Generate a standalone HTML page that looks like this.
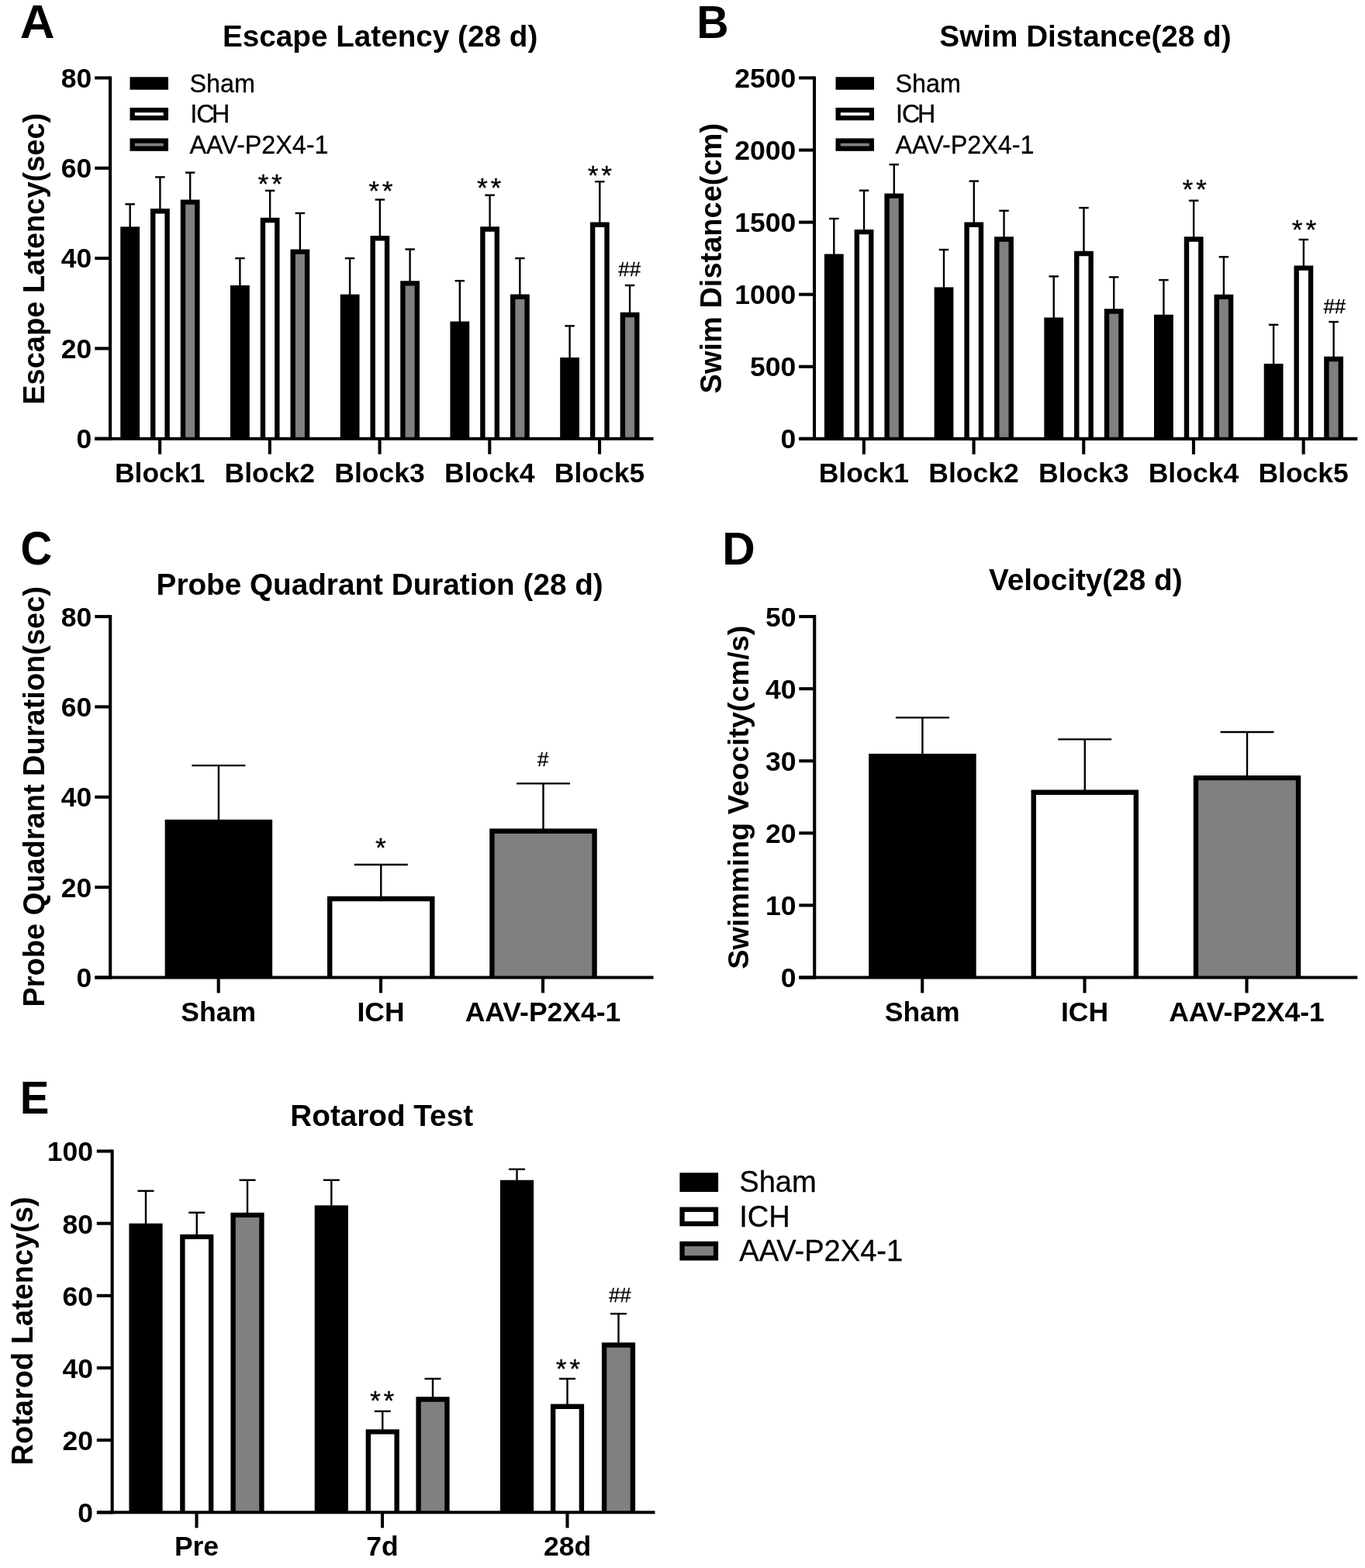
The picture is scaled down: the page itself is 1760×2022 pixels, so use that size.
<!DOCTYPE html>
<html lang="en">
<head>
<meta charset="utf-8">
<title>Morris water maze and rotarod results</title>
<style>
html,body{margin:0;padding:0;background:#fff;}
body{width:1760px;height:2022px;overflow:hidden;}
svg{display:block;}
svg text{font-family:"Liberation Sans", Arial, Helvetica, sans-serif;}
</style>
</head>
<body>
<svg width="1760" height="2022" viewBox="0 0 1760 2022" font-family='"Liberation Sans", Arial, Helvetica, sans-serif' fill="#000">
<rect width="1760" height="2022" fill="#fff"/>
<g id="shapes" shape-rendering="geometricPrecision">
<line x1="167.65" y1="263.29" x2="167.65" y2="294.37" stroke="#000" stroke-width="2.4"/>
<line x1="161.40" y1="263.29" x2="173.90" y2="263.29" stroke="#000" stroke-width="2.4"/>
<line x1="206.40" y1="228.39" x2="206.40" y2="271.10" stroke="#000" stroke-width="2.4"/>
<line x1="200.15" y1="228.39" x2="212.65" y2="228.39" stroke="#000" stroke-width="2.4"/>
<line x1="245.15" y1="222.58" x2="245.15" y2="259.47" stroke="#000" stroke-width="2.4"/>
<line x1="238.90" y1="222.58" x2="251.40" y2="222.58" stroke="#000" stroke-width="2.4"/>
<line x1="309.38" y1="333.07" x2="309.38" y2="369.97" stroke="#000" stroke-width="2.4"/>
<line x1="303.13" y1="333.07" x2="315.63" y2="333.07" stroke="#000" stroke-width="2.4"/>
<line x1="348.13" y1="245.84" x2="348.13" y2="282.73" stroke="#000" stroke-width="2.4"/>
<line x1="341.88" y1="245.84" x2="354.38" y2="245.84" stroke="#000" stroke-width="2.4"/>
<line x1="386.88" y1="274.92" x2="386.88" y2="323.44" stroke="#000" stroke-width="2.4"/>
<line x1="380.63" y1="274.92" x2="393.13" y2="274.92" stroke="#000" stroke-width="2.4"/>
<line x1="451.11" y1="333.07" x2="451.11" y2="381.60" stroke="#000" stroke-width="2.4"/>
<line x1="444.86" y1="333.07" x2="457.36" y2="333.07" stroke="#000" stroke-width="2.4"/>
<line x1="489.86" y1="257.47" x2="489.86" y2="306.00" stroke="#000" stroke-width="2.4"/>
<line x1="483.61" y1="257.47" x2="496.11" y2="257.47" stroke="#000" stroke-width="2.4"/>
<line x1="528.61" y1="321.44" x2="528.61" y2="364.15" stroke="#000" stroke-width="2.4"/>
<line x1="522.36" y1="321.44" x2="534.86" y2="321.44" stroke="#000" stroke-width="2.4"/>
<line x1="592.84" y1="362.15" x2="592.84" y2="416.49" stroke="#000" stroke-width="2.4"/>
<line x1="586.59" y1="362.15" x2="599.09" y2="362.15" stroke="#000" stroke-width="2.4"/>
<line x1="631.59" y1="251.66" x2="631.59" y2="294.37" stroke="#000" stroke-width="2.4"/>
<line x1="625.34" y1="251.66" x2="637.84" y2="251.66" stroke="#000" stroke-width="2.4"/>
<line x1="670.34" y1="333.07" x2="670.34" y2="381.60" stroke="#000" stroke-width="2.4"/>
<line x1="664.09" y1="333.07" x2="676.59" y2="333.07" stroke="#000" stroke-width="2.4"/>
<line x1="734.57" y1="420.31" x2="734.57" y2="463.02" stroke="#000" stroke-width="2.4"/>
<line x1="728.32" y1="420.31" x2="740.82" y2="420.31" stroke="#000" stroke-width="2.4"/>
<line x1="773.32" y1="234.21" x2="773.32" y2="288.55" stroke="#000" stroke-width="2.4"/>
<line x1="767.07" y1="234.21" x2="779.57" y2="234.21" stroke="#000" stroke-width="2.4"/>
<line x1="812.07" y1="367.97" x2="812.07" y2="404.86" stroke="#000" stroke-width="2.4"/>
<line x1="805.82" y1="367.97" x2="818.32" y2="367.97" stroke="#000" stroke-width="2.4"/>
<rect x="155.25" y="292.37" width="24.80" height="273.33" fill="#000"/>
<path d="M197.20 565.70V272.30H215.60V565.70" fill="#fff" stroke="#000" stroke-width="6.4" stroke-linejoin="miter"/>
<path d="M235.95 565.70V260.67H254.35V565.70" fill="#808080" stroke="#000" stroke-width="6.4" stroke-linejoin="miter"/>
<rect x="296.98" y="367.97" width="24.80" height="197.73" fill="#000"/>
<path d="M338.93 565.70V283.93H357.33V565.70" fill="#fff" stroke="#000" stroke-width="6.4" stroke-linejoin="miter"/>
<path d="M377.68 565.70V324.64H396.08V565.70" fill="#808080" stroke="#000" stroke-width="6.4" stroke-linejoin="miter"/>
<rect x="438.71" y="379.60" width="24.80" height="186.10" fill="#000"/>
<path d="M480.66 565.70V307.20H499.06V565.70" fill="#fff" stroke="#000" stroke-width="6.4" stroke-linejoin="miter"/>
<path d="M519.41 565.70V365.35H537.81V565.70" fill="#808080" stroke="#000" stroke-width="6.4" stroke-linejoin="miter"/>
<rect x="580.44" y="414.49" width="24.80" height="151.21" fill="#000"/>
<path d="M622.39 565.70V295.57H640.79V565.70" fill="#fff" stroke="#000" stroke-width="6.4" stroke-linejoin="miter"/>
<path d="M661.14 565.70V382.80H679.54V565.70" fill="#808080" stroke="#000" stroke-width="6.4" stroke-linejoin="miter"/>
<rect x="722.17" y="461.02" width="24.80" height="104.68" fill="#000"/>
<path d="M764.12 565.70V289.75H782.52V565.70" fill="#fff" stroke="#000" stroke-width="6.4" stroke-linejoin="miter"/>
<path d="M802.87 565.70V406.06H821.27V565.70" fill="#808080" stroke="#000" stroke-width="6.4" stroke-linejoin="miter"/>
<line x1="142.10" y1="98.40" x2="142.10" y2="567.75" stroke="#000" stroke-width="4.1"/>
<line x1="122.40" y1="565.70" x2="842.50" y2="565.70" stroke="#000" stroke-width="4.1"/>
<line x1="122.20" y1="565.70" x2="142.10" y2="565.70" stroke="#000" stroke-width="4.1"/>
<line x1="122.20" y1="449.39" x2="142.10" y2="449.39" stroke="#000" stroke-width="4.1"/>
<line x1="122.20" y1="333.07" x2="142.10" y2="333.07" stroke="#000" stroke-width="4.1"/>
<line x1="122.20" y1="216.76" x2="142.10" y2="216.76" stroke="#000" stroke-width="4.1"/>
<line x1="122.20" y1="100.45" x2="142.10" y2="100.45" stroke="#000" stroke-width="4.1"/>
<line x1="206.10" y1="565.70" x2="206.10" y2="585.70" stroke="#000" stroke-width="4.1"/>
<line x1="347.83" y1="565.70" x2="347.83" y2="585.70" stroke="#000" stroke-width="4.1"/>
<line x1="489.56" y1="565.70" x2="489.56" y2="585.70" stroke="#000" stroke-width="4.1"/>
<line x1="631.29" y1="565.70" x2="631.29" y2="585.70" stroke="#000" stroke-width="4.1"/>
<line x1="773.02" y1="565.70" x2="773.02" y2="585.70" stroke="#000" stroke-width="4.1"/>
<rect x="167.50" y="99.30" width="49.50" height="16.40" fill="#000"/>
<rect x="170.65" y="142.00" width="43.20" height="10.10" fill="#fff" stroke="#000" stroke-width="6.3"/>
<rect x="170.65" y="181.55" width="43.20" height="10.10" fill="#808080" stroke="#000" stroke-width="6.3"/>
<line x1="1075.30" y1="281.96" x2="1075.30" y2="329.57" stroke="#000" stroke-width="2.4"/>
<line x1="1069.05" y1="281.96" x2="1081.55" y2="281.96" stroke="#000" stroke-width="2.4"/>
<line x1="1114.05" y1="245.65" x2="1114.05" y2="297.92" stroke="#000" stroke-width="2.4"/>
<line x1="1107.80" y1="245.65" x2="1120.30" y2="245.65" stroke="#000" stroke-width="2.4"/>
<line x1="1152.80" y1="212.15" x2="1152.80" y2="251.38" stroke="#000" stroke-width="2.4"/>
<line x1="1146.55" y1="212.15" x2="1159.05" y2="212.15" stroke="#000" stroke-width="2.4"/>
<line x1="1217.00" y1="321.98" x2="1217.00" y2="372.38" stroke="#000" stroke-width="2.4"/>
<line x1="1210.75" y1="321.98" x2="1223.25" y2="321.98" stroke="#000" stroke-width="2.4"/>
<line x1="1255.75" y1="233.55" x2="1255.75" y2="288.61" stroke="#000" stroke-width="2.4"/>
<line x1="1249.50" y1="233.55" x2="1262.00" y2="233.55" stroke="#000" stroke-width="2.4"/>
<line x1="1294.50" y1="271.72" x2="1294.50" y2="307.23" stroke="#000" stroke-width="2.4"/>
<line x1="1288.25" y1="271.72" x2="1300.75" y2="271.72" stroke="#000" stroke-width="2.4"/>
<line x1="1358.70" y1="356.42" x2="1358.70" y2="411.48" stroke="#000" stroke-width="2.4"/>
<line x1="1352.45" y1="356.42" x2="1364.95" y2="356.42" stroke="#000" stroke-width="2.4"/>
<line x1="1397.45" y1="267.99" x2="1397.45" y2="325.84" stroke="#000" stroke-width="2.4"/>
<line x1="1391.20" y1="267.99" x2="1403.70" y2="267.99" stroke="#000" stroke-width="2.4"/>
<line x1="1436.20" y1="357.35" x2="1436.20" y2="400.31" stroke="#000" stroke-width="2.4"/>
<line x1="1429.95" y1="357.35" x2="1442.45" y2="357.35" stroke="#000" stroke-width="2.4"/>
<line x1="1500.40" y1="361.07" x2="1500.40" y2="407.75" stroke="#000" stroke-width="2.4"/>
<line x1="1494.15" y1="361.07" x2="1506.65" y2="361.07" stroke="#000" stroke-width="2.4"/>
<line x1="1539.15" y1="258.69" x2="1539.15" y2="307.23" stroke="#000" stroke-width="2.4"/>
<line x1="1532.90" y1="258.69" x2="1545.40" y2="258.69" stroke="#000" stroke-width="2.4"/>
<line x1="1577.90" y1="331.29" x2="1577.90" y2="381.69" stroke="#000" stroke-width="2.4"/>
<line x1="1571.65" y1="331.29" x2="1584.15" y2="331.29" stroke="#000" stroke-width="2.4"/>
<line x1="1642.10" y1="418.78" x2="1642.10" y2="471.05" stroke="#000" stroke-width="2.4"/>
<line x1="1635.85" y1="418.78" x2="1648.35" y2="418.78" stroke="#000" stroke-width="2.4"/>
<line x1="1680.85" y1="308.95" x2="1680.85" y2="344.46" stroke="#000" stroke-width="2.4"/>
<line x1="1674.60" y1="308.95" x2="1687.10" y2="308.95" stroke="#000" stroke-width="2.4"/>
<line x1="1719.60" y1="415.06" x2="1719.60" y2="461.74" stroke="#000" stroke-width="2.4"/>
<line x1="1713.35" y1="415.06" x2="1725.85" y2="415.06" stroke="#000" stroke-width="2.4"/>
<rect x="1062.90" y="327.57" width="24.80" height="238.28" fill="#000"/>
<path d="M1104.85 565.85V299.12H1123.25V565.85" fill="#fff" stroke="#000" stroke-width="6.4" stroke-linejoin="miter"/>
<path d="M1143.60 565.85V252.58H1162.00V565.85" fill="#808080" stroke="#000" stroke-width="6.4" stroke-linejoin="miter"/>
<rect x="1204.60" y="370.38" width="24.80" height="195.47" fill="#000"/>
<path d="M1246.55 565.85V289.81H1264.95V565.85" fill="#fff" stroke="#000" stroke-width="6.4" stroke-linejoin="miter"/>
<path d="M1285.30 565.85V308.43H1303.70V565.85" fill="#808080" stroke="#000" stroke-width="6.4" stroke-linejoin="miter"/>
<rect x="1346.30" y="409.48" width="24.80" height="156.37" fill="#000"/>
<path d="M1388.25 565.85V327.04H1406.65V565.85" fill="#fff" stroke="#000" stroke-width="6.4" stroke-linejoin="miter"/>
<path d="M1427.00 565.85V401.51H1445.40V565.85" fill="#808080" stroke="#000" stroke-width="6.4" stroke-linejoin="miter"/>
<rect x="1488.00" y="405.75" width="24.80" height="160.10" fill="#000"/>
<path d="M1529.95 565.85V308.43H1548.35V565.85" fill="#fff" stroke="#000" stroke-width="6.4" stroke-linejoin="miter"/>
<path d="M1568.70 565.85V382.89H1587.10V565.85" fill="#808080" stroke="#000" stroke-width="6.4" stroke-linejoin="miter"/>
<rect x="1629.70" y="469.05" width="24.80" height="96.80" fill="#000"/>
<path d="M1671.65 565.85V345.66H1690.05V565.85" fill="#fff" stroke="#000" stroke-width="6.4" stroke-linejoin="miter"/>
<path d="M1710.40 565.85V462.94H1728.80V565.85" fill="#808080" stroke="#000" stroke-width="6.4" stroke-linejoin="miter"/>
<line x1="1050.00" y1="98.40" x2="1050.00" y2="567.90" stroke="#000" stroke-width="4.1"/>
<line x1="1030.30" y1="565.85" x2="1750.30" y2="565.85" stroke="#000" stroke-width="4.1"/>
<line x1="1030.10" y1="565.85" x2="1050.00" y2="565.85" stroke="#000" stroke-width="4.1"/>
<line x1="1030.10" y1="472.77" x2="1050.00" y2="472.77" stroke="#000" stroke-width="4.1"/>
<line x1="1030.10" y1="379.69" x2="1050.00" y2="379.69" stroke="#000" stroke-width="4.1"/>
<line x1="1030.10" y1="286.61" x2="1050.00" y2="286.61" stroke="#000" stroke-width="4.1"/>
<line x1="1030.10" y1="193.53" x2="1050.00" y2="193.53" stroke="#000" stroke-width="4.1"/>
<line x1="1030.10" y1="100.45" x2="1050.00" y2="100.45" stroke="#000" stroke-width="4.1"/>
<line x1="1113.85" y1="565.85" x2="1113.85" y2="585.85" stroke="#000" stroke-width="4.1"/>
<line x1="1255.55" y1="565.85" x2="1255.55" y2="585.85" stroke="#000" stroke-width="4.1"/>
<line x1="1397.25" y1="565.85" x2="1397.25" y2="585.85" stroke="#000" stroke-width="4.1"/>
<line x1="1538.95" y1="565.85" x2="1538.95" y2="585.85" stroke="#000" stroke-width="4.1"/>
<line x1="1680.65" y1="565.85" x2="1680.65" y2="585.85" stroke="#000" stroke-width="4.1"/>
<rect x="1077.50" y="99.30" width="49.50" height="16.40" fill="#000"/>
<rect x="1080.65" y="142.00" width="43.20" height="10.10" fill="#fff" stroke="#000" stroke-width="6.3"/>
<rect x="1080.65" y="181.55" width="43.20" height="10.10" fill="#808080" stroke="#000" stroke-width="6.3"/>
<line x1="281.90" y1="987.08" x2="281.90" y2="1058.89" stroke="#000" stroke-width="2.4"/>
<line x1="247.40" y1="987.08" x2="316.40" y2="987.08" stroke="#000" stroke-width="2.4"/>
<line x1="491.25" y1="1115.06" x2="491.25" y2="1157.79" stroke="#000" stroke-width="2.4"/>
<line x1="456.75" y1="1115.06" x2="525.75" y2="1115.06" stroke="#000" stroke-width="2.4"/>
<line x1="700.50" y1="1010.35" x2="700.50" y2="1070.52" stroke="#000" stroke-width="2.4"/>
<line x1="666.00" y1="1010.35" x2="735.00" y2="1010.35" stroke="#000" stroke-width="2.4"/>
<rect x="212.65" y="1056.89" width="138.50" height="203.61" fill="#000"/>
<path d="M425.20 1260.50V1158.99H557.30V1260.50" fill="#fff" stroke="#000" stroke-width="6.4" stroke-linejoin="miter"/>
<path d="M634.45 1260.50V1071.72H766.55V1260.50" fill="#808080" stroke="#000" stroke-width="6.4" stroke-linejoin="miter"/>
<line x1="142.20" y1="793.05" x2="142.20" y2="1262.55" stroke="#000" stroke-width="4.1"/>
<line x1="122.50" y1="1260.50" x2="842.50" y2="1260.50" stroke="#000" stroke-width="4.1"/>
<line x1="122.30" y1="1260.50" x2="142.20" y2="1260.50" stroke="#000" stroke-width="4.1"/>
<line x1="122.30" y1="1144.15" x2="142.20" y2="1144.15" stroke="#000" stroke-width="4.1"/>
<line x1="122.30" y1="1027.80" x2="142.20" y2="1027.80" stroke="#000" stroke-width="4.1"/>
<line x1="122.30" y1="911.45" x2="142.20" y2="911.45" stroke="#000" stroke-width="4.1"/>
<line x1="122.30" y1="795.10" x2="142.20" y2="795.10" stroke="#000" stroke-width="4.1"/>
<line x1="281.70" y1="1260.50" x2="281.70" y2="1280.50" stroke="#000" stroke-width="4.1"/>
<line x1="491.00" y1="1260.50" x2="491.00" y2="1280.50" stroke="#000" stroke-width="4.1"/>
<line x1="700.00" y1="1260.50" x2="700.00" y2="1280.50" stroke="#000" stroke-width="4.1"/>
<line x1="1189.40" y1="925.41" x2="1189.40" y2="973.95" stroke="#000" stroke-width="2.4"/>
<line x1="1154.90" y1="925.41" x2="1223.90" y2="925.41" stroke="#000" stroke-width="2.4"/>
<line x1="1398.75" y1="953.34" x2="1398.75" y2="1020.49" stroke="#000" stroke-width="2.4"/>
<line x1="1364.25" y1="953.34" x2="1433.25" y2="953.34" stroke="#000" stroke-width="2.4"/>
<line x1="1608.00" y1="944.03" x2="1608.00" y2="1001.88" stroke="#000" stroke-width="2.4"/>
<line x1="1573.50" y1="944.03" x2="1642.50" y2="944.03" stroke="#000" stroke-width="2.4"/>
<rect x="1120.15" y="971.95" width="138.50" height="288.55" fill="#000"/>
<path d="M1332.70 1260.50V1021.69H1464.80V1260.50" fill="#fff" stroke="#000" stroke-width="6.4" stroke-linejoin="miter"/>
<path d="M1541.95 1260.50V1003.08H1674.05V1260.50" fill="#808080" stroke="#000" stroke-width="6.4" stroke-linejoin="miter"/>
<line x1="1050.20" y1="793.05" x2="1050.20" y2="1262.55" stroke="#000" stroke-width="4.1"/>
<line x1="1030.30" y1="1260.50" x2="1750.30" y2="1260.50" stroke="#000" stroke-width="4.1"/>
<line x1="1030.30" y1="1260.50" x2="1050.20" y2="1260.50" stroke="#000" stroke-width="4.1"/>
<line x1="1030.30" y1="1167.42" x2="1050.20" y2="1167.42" stroke="#000" stroke-width="4.1"/>
<line x1="1030.30" y1="1074.34" x2="1050.20" y2="1074.34" stroke="#000" stroke-width="4.1"/>
<line x1="1030.30" y1="981.26" x2="1050.20" y2="981.26" stroke="#000" stroke-width="4.1"/>
<line x1="1030.30" y1="888.18" x2="1050.20" y2="888.18" stroke="#000" stroke-width="4.1"/>
<line x1="1030.30" y1="795.10" x2="1050.20" y2="795.10" stroke="#000" stroke-width="4.1"/>
<line x1="1189.20" y1="1260.50" x2="1189.20" y2="1280.50" stroke="#000" stroke-width="4.1"/>
<line x1="1398.50" y1="1260.50" x2="1398.50" y2="1280.50" stroke="#000" stroke-width="4.1"/>
<line x1="1607.50" y1="1260.50" x2="1607.50" y2="1280.50" stroke="#000" stroke-width="4.1"/>
<line x1="188.00" y1="1535.74" x2="188.00" y2="1579.66" stroke="#000" stroke-width="2.4"/>
<line x1="177.50" y1="1535.74" x2="198.50" y2="1535.74" stroke="#000" stroke-width="2.4"/>
<line x1="253.75" y1="1563.69" x2="253.75" y2="1593.63" stroke="#000" stroke-width="2.4"/>
<line x1="243.25" y1="1563.69" x2="264.25" y2="1563.69" stroke="#000" stroke-width="2.4"/>
<line x1="319.00" y1="1521.76" x2="319.00" y2="1565.69" stroke="#000" stroke-width="2.4"/>
<line x1="308.50" y1="1521.76" x2="329.50" y2="1521.76" stroke="#000" stroke-width="2.4"/>
<line x1="427.30" y1="1521.76" x2="427.30" y2="1556.37" stroke="#000" stroke-width="2.4"/>
<line x1="416.80" y1="1521.76" x2="437.80" y2="1521.76" stroke="#000" stroke-width="2.4"/>
<line x1="493.25" y1="1819.88" x2="493.25" y2="1845.17" stroke="#000" stroke-width="2.4"/>
<line x1="482.75" y1="1819.88" x2="503.75" y2="1819.88" stroke="#000" stroke-width="2.4"/>
<line x1="558.00" y1="1777.95" x2="558.00" y2="1803.24" stroke="#000" stroke-width="2.4"/>
<line x1="547.50" y1="1777.95" x2="568.50" y2="1777.95" stroke="#000" stroke-width="2.4"/>
<line x1="666.50" y1="1507.79" x2="666.50" y2="1523.76" stroke="#000" stroke-width="2.4"/>
<line x1="656.00" y1="1507.79" x2="677.00" y2="1507.79" stroke="#000" stroke-width="2.4"/>
<line x1="731.50" y1="1777.95" x2="731.50" y2="1812.56" stroke="#000" stroke-width="2.4"/>
<line x1="721.00" y1="1777.95" x2="742.00" y2="1777.95" stroke="#000" stroke-width="2.4"/>
<line x1="797.50" y1="1694.11" x2="797.50" y2="1733.37" stroke="#000" stroke-width="2.4"/>
<line x1="787.00" y1="1694.11" x2="808.00" y2="1694.11" stroke="#000" stroke-width="2.4"/>
<rect x="166.40" y="1577.66" width="43.20" height="372.64" fill="#000"/>
<path d="M235.35 1950.30V1594.83H272.15V1950.30" fill="#fff" stroke="#000" stroke-width="6.4" stroke-linejoin="miter"/>
<path d="M300.60 1950.30V1566.89H337.40V1950.30" fill="#808080" stroke="#000" stroke-width="6.4" stroke-linejoin="miter"/>
<rect x="405.70" y="1554.37" width="43.20" height="395.93" fill="#000"/>
<path d="M474.85 1950.30V1846.37H511.65V1950.30" fill="#fff" stroke="#000" stroke-width="6.4" stroke-linejoin="miter"/>
<path d="M539.60 1950.30V1804.44H576.40V1950.30" fill="#808080" stroke="#000" stroke-width="6.4" stroke-linejoin="miter"/>
<rect x="644.90" y="1521.76" width="43.20" height="428.54" fill="#000"/>
<path d="M713.10 1950.30V1813.76H749.90V1950.30" fill="#fff" stroke="#000" stroke-width="6.4" stroke-linejoin="miter"/>
<path d="M779.10 1950.30V1734.57H815.90V1950.30" fill="#808080" stroke="#000" stroke-width="6.4" stroke-linejoin="miter"/>
<line x1="144.65" y1="1482.45" x2="144.65" y2="1952.35" stroke="#000" stroke-width="4.1"/>
<line x1="125.00" y1="1950.30" x2="844.50" y2="1950.30" stroke="#000" stroke-width="4.1"/>
<line x1="124.75" y1="1950.30" x2="144.65" y2="1950.30" stroke="#000" stroke-width="4.1"/>
<line x1="124.75" y1="1857.14" x2="144.65" y2="1857.14" stroke="#000" stroke-width="4.1"/>
<line x1="124.75" y1="1763.98" x2="144.65" y2="1763.98" stroke="#000" stroke-width="4.1"/>
<line x1="124.75" y1="1670.82" x2="144.65" y2="1670.82" stroke="#000" stroke-width="4.1"/>
<line x1="124.75" y1="1577.66" x2="144.65" y2="1577.66" stroke="#000" stroke-width="4.1"/>
<line x1="124.75" y1="1484.50" x2="144.65" y2="1484.50" stroke="#000" stroke-width="4.1"/>
<line x1="253.50" y1="1950.30" x2="253.50" y2="1970.30" stroke="#000" stroke-width="4.1"/>
<line x1="493.00" y1="1950.30" x2="493.00" y2="1970.30" stroke="#000" stroke-width="4.1"/>
<line x1="731.50" y1="1950.30" x2="731.50" y2="1970.30" stroke="#000" stroke-width="4.1"/>
<rect x="876.40" y="1512.30" width="49.70" height="24.70" fill="#000"/>
<rect x="879.55" y="1559.70" width="43.40" height="18.40" fill="#fff" stroke="#000" stroke-width="6.3"/>
<rect x="879.55" y="1603.95" width="43.40" height="18.40" fill="#808080" stroke="#000" stroke-width="6.3"/>
</g>
<g id="labels">
<text x="98.55" y="577.95" font-size="35.5" font-weight="bold">0</text>
<text x="78.80" y="461.64" font-size="35.5" font-weight="bold">20</text>
<text x="78.80" y="345.32" font-size="35.5" font-weight="bold">40</text>
<text x="78.80" y="229.01" font-size="35.5" font-weight="bold">60</text>
<text x="78.80" y="112.70" font-size="35.5" font-weight="bold">80</text>
<text x="206.10" y="621.90" font-size="35.5" font-weight="bold" text-anchor="middle">Block1</text>
<text x="347.83" y="621.90" font-size="35.5" font-weight="bold" text-anchor="middle">Block2</text>
<text x="489.56" y="621.90" font-size="35.5" font-weight="bold" text-anchor="middle">Block3</text>
<text x="631.29" y="621.90" font-size="35.5" font-weight="bold" text-anchor="middle">Block4</text>
<text x="773.02" y="621.90" font-size="35.5" font-weight="bold" text-anchor="middle">Block5</text>
<text x="286.90" y="60.20" font-size="38.7" font-weight="bold">Escape Latency (28 d)</text>
<text transform="translate(25.73 49.40) scale(1.0122 0.9893)" font-size="61.3" font-weight="bold">A</text>
<text transform="translate(56.90 521.75) rotate(-90)" font-size="38.0" font-weight="bold">Escape Latency(sec)</text>
<text x="332.45" y="248.53" font-size="35.5" font-weight="normal" letter-spacing="3.75" stroke="#000" stroke-width="0.3" stroke-linejoin="round">**</text>
<text x="475.25" y="258.43" font-size="35.5" font-weight="normal" letter-spacing="3.75" stroke="#000" stroke-width="0.3" stroke-linejoin="round">**</text>
<text x="615.05" y="253.82" font-size="35.5" font-weight="normal" letter-spacing="3.75" stroke="#000" stroke-width="0.3" stroke-linejoin="round">**</text>
<text x="757.75" y="238.32" font-size="35.5" font-weight="normal" letter-spacing="3.75" stroke="#000" stroke-width="0.3" stroke-linejoin="round">**</text>
<text x="797.33" y="355.68" font-size="25.8" font-weight="normal" stroke="#000" stroke-width="0.3" stroke-linejoin="round">##</text>
<text x="244.55" y="118.90" font-size="32.3" font-weight="normal" stroke="#000" stroke-width="0.3" stroke-linejoin="round">Sham</text>
<text x="244.55" y="158.45" font-size="32.3" font-weight="normal" stroke="#000" stroke-width="0.3" stroke-linejoin="round" dx="0.6 -1 -3.4">ICH</text>
<text x="244.55" y="198.00" font-size="32.3" font-weight="normal" stroke="#000" stroke-width="0.3" stroke-linejoin="round">AAV-P2X4-1</text>
<text x="1006.55" y="578.10" font-size="35.5" font-weight="bold">0</text>
<text x="967.05" y="485.02" font-size="35.5" font-weight="bold">500</text>
<text x="947.30" y="391.94" font-size="35.5" font-weight="bold">1000</text>
<text x="947.30" y="298.86" font-size="35.5" font-weight="bold">1500</text>
<text x="947.30" y="205.78" font-size="35.5" font-weight="bold">2000</text>
<text x="947.30" y="112.70" font-size="35.5" font-weight="bold">2500</text>
<text x="1113.85" y="621.90" font-size="35.5" font-weight="bold" text-anchor="middle">Block1</text>
<text x="1255.55" y="621.90" font-size="35.5" font-weight="bold" text-anchor="middle">Block2</text>
<text x="1397.25" y="621.90" font-size="35.5" font-weight="bold" text-anchor="middle">Block3</text>
<text x="1538.95" y="621.90" font-size="35.5" font-weight="bold" text-anchor="middle">Block4</text>
<text x="1680.65" y="621.90" font-size="35.5" font-weight="bold" text-anchor="middle">Block5</text>
<text x="1211.35" y="60.20" font-size="38.7" font-weight="bold">Swim Distance(28 d)</text>
<text transform="translate(898.27 49.25) scale(0.9333 0.9586)" font-size="61.3" font-weight="bold">B</text>
<text transform="translate(929.50 507.38) rotate(-90)" font-size="38.0" font-weight="bold">Swim Distance(cm)</text>
<text x="1524.55" y="256.02" font-size="35.5" font-weight="normal" letter-spacing="3.75" stroke="#000" stroke-width="0.3" stroke-linejoin="round">**</text>
<text x="1665.85" y="308.12" font-size="35.5" font-weight="normal" letter-spacing="3.75" stroke="#000" stroke-width="0.3" stroke-linejoin="round">**</text>
<text x="1706.42" y="404.48" font-size="25.8" font-weight="normal" stroke="#000" stroke-width="0.3" stroke-linejoin="round">##</text>
<text x="1154.50" y="118.90" font-size="32.3" font-weight="normal" stroke="#000" stroke-width="0.3" stroke-linejoin="round">Sham</text>
<text x="1154.50" y="158.45" font-size="32.3" font-weight="normal" stroke="#000" stroke-width="0.3" stroke-linejoin="round" dx="0.6 -1 -3.4">ICH</text>
<text x="1154.50" y="198.00" font-size="32.3" font-weight="normal" stroke="#000" stroke-width="0.3" stroke-linejoin="round">AAV-P2X4-1</text>
<text x="98.55" y="1273.15" font-size="35.5" font-weight="bold">0</text>
<text x="78.80" y="1156.80" font-size="35.5" font-weight="bold">20</text>
<text x="78.80" y="1040.45" font-size="35.5" font-weight="bold">40</text>
<text x="78.80" y="924.10" font-size="35.5" font-weight="bold">60</text>
<text x="78.80" y="807.75" font-size="35.5" font-weight="bold">80</text>
<text x="281.70" y="1317.30" font-size="35.5" font-weight="bold" text-anchor="middle">Sham</text>
<text x="491.00" y="1317.30" font-size="35.5" font-weight="bold" text-anchor="middle">ICH</text>
<text x="700.00" y="1317.30" font-size="35.5" font-weight="bold" text-anchor="middle">AAV-P2X4-1</text>
<text x="201.62" y="767.00" font-size="38.7" font-weight="bold">Probe Quadrant Duration (28 d)</text>
<text transform="translate(26.45 727.50) scale(0.9187 0.9942)" font-size="61.3" font-weight="bold">C</text>
<text transform="translate(56.90 1298.62) rotate(-90)" font-size="38.0" font-weight="bold">Probe Quadrant Duration(sec)</text>
<text x="484.00" y="1105.12" font-size="35.5" font-weight="normal" stroke="#000" stroke-width="0.3" stroke-linejoin="round">*</text>
<text x="692.88" y="987.88" font-size="25.8" font-weight="normal" stroke="#000" stroke-width="0.3" stroke-linejoin="round">#</text>
<text x="1006.75" y="1273.15" font-size="35.5" font-weight="bold">0</text>
<text x="987.00" y="1180.07" font-size="35.5" font-weight="bold">10</text>
<text x="987.00" y="1086.99" font-size="35.5" font-weight="bold">20</text>
<text x="987.00" y="993.91" font-size="35.5" font-weight="bold">30</text>
<text x="987.00" y="900.83" font-size="35.5" font-weight="bold">40</text>
<text x="987.00" y="807.75" font-size="35.5" font-weight="bold">50</text>
<text x="1189.20" y="1317.30" font-size="35.5" font-weight="bold" text-anchor="middle">Sham</text>
<text x="1398.50" y="1317.30" font-size="35.5" font-weight="bold" text-anchor="middle">ICH</text>
<text x="1607.50" y="1317.30" font-size="35.5" font-weight="bold" text-anchor="middle">AAV-P2X4-1</text>
<text x="1275.12" y="761.00" font-size="38.7" font-weight="bold">Velocity(28 d)</text>
<text transform="translate(931.16 727.80) scale(0.9589 0.9799)" font-size="61.3" font-weight="bold">D</text>
<text transform="translate(965.25 1249.85) rotate(-90)" font-size="37.8" font-weight="bold">Swimming Veocity(cm/s)</text>
<text x="100.35" y="1963.25" font-size="35.5" font-weight="bold">0</text>
<text x="80.60" y="1870.09" font-size="35.5" font-weight="bold">20</text>
<text x="80.60" y="1776.93" font-size="35.5" font-weight="bold">40</text>
<text x="80.60" y="1683.77" font-size="35.5" font-weight="bold">60</text>
<text x="80.60" y="1590.61" font-size="35.5" font-weight="bold">80</text>
<text x="60.85" y="1497.45" font-size="35.5" font-weight="bold">100</text>
<text x="253.50" y="2006.20" font-size="35.5" font-weight="bold" text-anchor="middle">Pre</text>
<text x="493.00" y="2006.20" font-size="35.5" font-weight="bold" text-anchor="middle">7d</text>
<text x="731.50" y="2006.20" font-size="35.5" font-weight="bold" text-anchor="middle">28d</text>
<text x="374.32" y="1452.10" font-size="38.7" font-weight="bold">Rotarod Test</text>
<text transform="translate(25.82 1436.25) scale(0.9203 0.9763)" font-size="61.3" font-weight="bold">E</text>
<text transform="translate(41.50 1889.50) rotate(-90)" font-size="38.0" font-weight="bold">Rotarod Latency(s)</text>
<text x="477.05" y="1817.92" font-size="35.5" font-weight="normal" letter-spacing="3.75" stroke="#000" stroke-width="0.3" stroke-linejoin="round">**</text>
<text x="716.75" y="1776.62" font-size="35.5" font-weight="normal" letter-spacing="3.75" stroke="#000" stroke-width="0.3" stroke-linejoin="round">**</text>
<text x="785.02" y="1679.08" font-size="25.8" font-weight="normal" stroke="#000" stroke-width="0.3" stroke-linejoin="round">##</text>
<text x="953.25" y="1537.40" font-size="38.1" font-weight="normal" stroke="#000" stroke-width="0.3" stroke-linejoin="round">Sham</text>
<text x="953.25" y="1581.65" font-size="38.1" font-weight="normal" stroke="#000" stroke-width="0.3" stroke-linejoin="round">ICH</text>
<text x="953.25" y="1625.90" font-size="38.1" font-weight="normal" stroke="#000" stroke-width="0.3" stroke-linejoin="round">AAV-P2X4-1</text>
</g>
</svg>
</body>
</html>
